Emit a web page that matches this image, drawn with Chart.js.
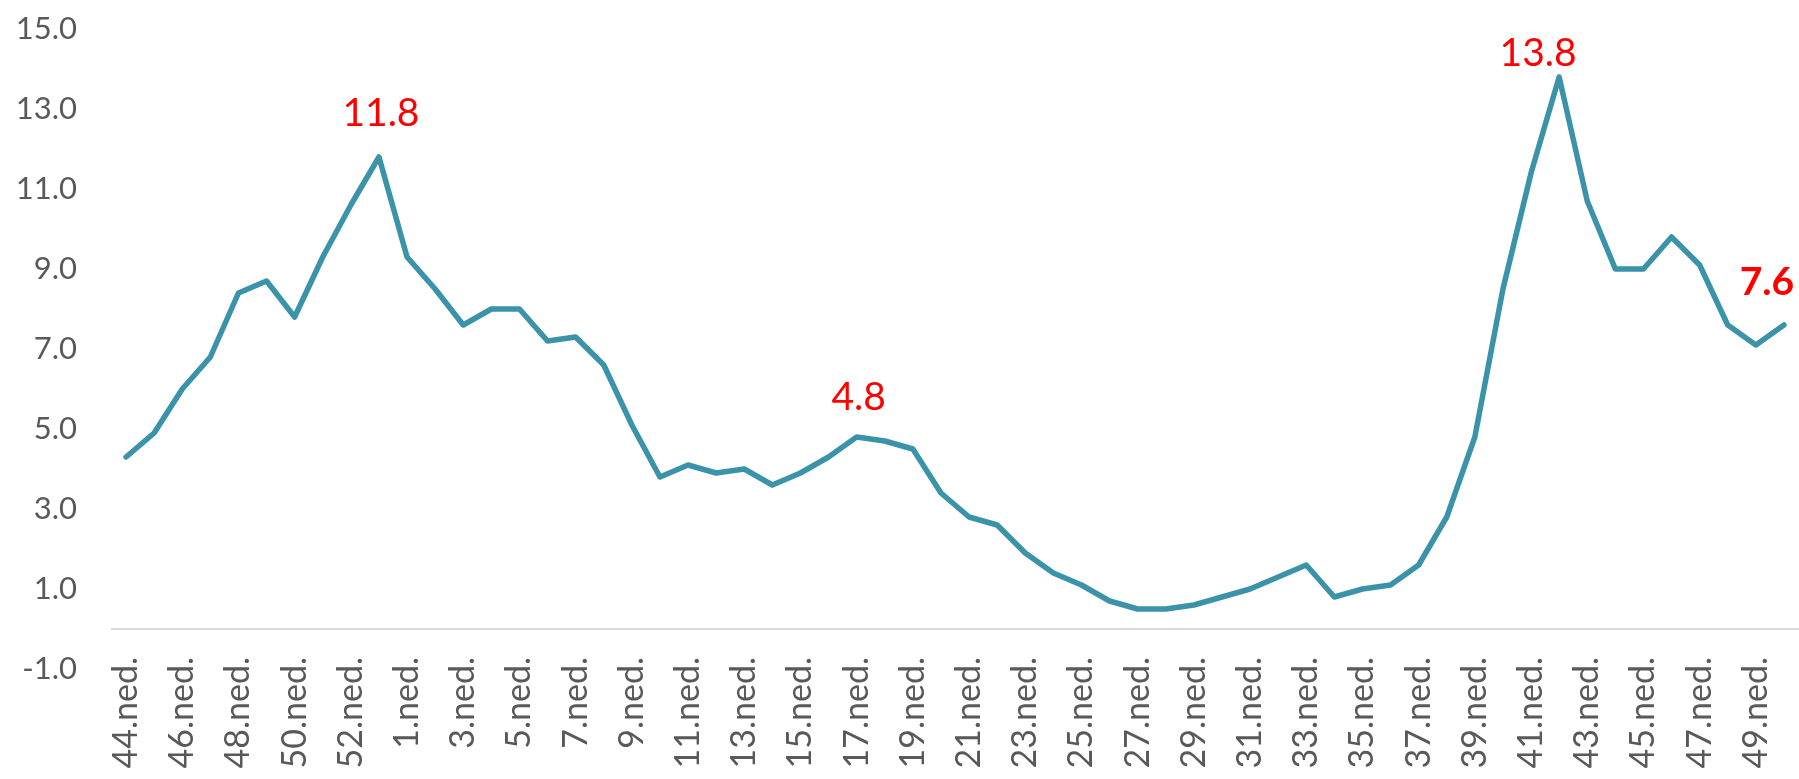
<!DOCTYPE html>
<html>
<head>
<meta charset="utf-8">
<script src="https://cdn.jsdelivr.net/npm/chart.js@4/dist/chart.umd.min.js"></script>
<style>
  html, body { margin: 0; padding: 0; background: #fff; }
  #wrap { width: 1799px; height: 779px; position: relative; }
</style>
</head>
<body>
<div id="wrap"><canvas id="grafico"></canvas></div>
<script>
// tedni: 44.-53. teden, nato 1.-50. teden
const weeks = [44, 45, 46, 47, 48, 49, 50, 51, 52, 53,
  1, 2, 3, 4, 5, 6, 7, 8, 9, 10, 11, 12, 13, 14, 15, 16, 17, 18, 19, 20,
  21, 22, 23, 24, 25, 26, 27, 28, 29, 30, 31, 32, 33, 34, 35, 36, 37, 38, 39, 40,
  41, 42, 43, 44, 45, 46, 47, 48, 49, 50];
const labels = weeks.map(w => w + '.ned.');

const values = [4.3, 4.9, 6.0, 6.8, 8.4, 8.7, 7.8, 9.3, 10.6, 11.8,
  9.3, 8.5, 7.6, 8.0, 8.0, 7.2, 7.3, 6.6, 5.1, 3.8,
  4.1, 3.9, 4.0, 3.6, 3.9, 4.3, 4.8, 4.7, 4.5, 3.4,
  2.8, 2.6, 1.9, 1.4, 1.1, 0.7, 0.5, 0.5, 0.6, 0.8,
  1.0, 1.3, 1.6, 0.8, 1.0, 1.1, 1.6, 2.8, 4.8, 8.5,
  11.4, 13.8, 10.7, 9.0, 9.0, 9.8, 9.1, 7.6, 7.1, 7.6];

const yTicks = [-1, 1, 3, 5, 7, 9, 11, 13, 15];

// označene vrednosti (indeks točke)
const markedPoints = [9, 26, 51, 59];

const labelStyle = {
  9:  { dx: 2,   dy: -44, bold: false },
  26: { dx: 2,   dy: -40, bold: false },
  51: { dx: -21, dy: -24, bold: false },
  59: { dx: -17, dy: -43, bold: true }
};

const FONT = 'Lato, "Open Sans", sans-serif';

// plugin za rdeče oznake vrednosti
const valueLabels = {
  id: 'valueLabels',
  afterDatasetsDraw(chart) {
    const meta = chart.getDatasetMeta(0);
    const ctx = chart.ctx;
    ctx.save();
    ctx.fillStyle = '#FF0000';
    ctx.textAlign = 'center';
    ctx.textBaseline = 'middle';
    markedPoints.forEach(i => {
      const p = meta.data[i];
      const s = labelStyle[i];
      ctx.font = (s.bold ? 'bold ' : '') + '39px ' + FONT;
      ctx.fillText(values[i].toFixed(1), p.x + s.dx, p.y + s.dy);
    });
    ctx.restore();
  }
};

const ctx = document.getElementById('grafico').getContext('2d');
new Chart(ctx, {
  type: 'line',
  data: {
    labels: labels,
    datasets: [{
      data: values,
      borderColor: '#3A93A9',
      borderWidth: 5.5,
      borderCapStyle: 'round',
      borderJoinStyle: 'round',
      pointRadius: 0,
      tension: 0,
      fill: false
    }]
  },
  options: {
    responsive: true,
    maintainAspectRatio: false,
    animation: false,
    layout: { padding: { top: 29, right: 1, bottom: 110, left: 0 } },
    plugins: {
      legend: { display: false },
      tooltip: { enabled: false }
    },
    scales: {
      x: {
        type: 'category',
        position: { y: 0 },
        offset: true,
        grid: { display: true, drawOnChartArea: false, drawTicks: false },
        border: { display: true, color: '#D9D9D9', width: 2 },
        ticks: {
          autoSkip: false,
          maxRotation: 90,
          minRotation: 90,
          padding: 28,
          color: '#595959',
          font: { family: FONT, size: 34 },
          callback: function (value, index) {
            return index % 2 === 0 ? this.getLabelForValue(value) : '';
          }
        },
        afterFit: (scale) => {
          scale.height = 0;
          scale.paddingLeft = 0;
          scale.paddingRight = 0;
        }
      },
      y: {
        min: -1,
        max: 15,
        grid: { display: false, drawTicks: false },
        border: { display: false },
        afterBuildTicks: (scale) => {
          scale.ticks = yTicks.map(v => ({ value: v }));
        },
        ticks: {
          padding: 35,
          color: '#595959',
          font: { family: FONT, size: 31 },
          callback: (value) => value.toFixed(1)
        },
        afterFit: (scale) => {
          scale.width = 112;
          scale.paddingTop = 0;
          scale.paddingBottom = 0;
        }
      }
    }
  },
  plugins: [valueLabels]
});
</script>
</body>
</html>
